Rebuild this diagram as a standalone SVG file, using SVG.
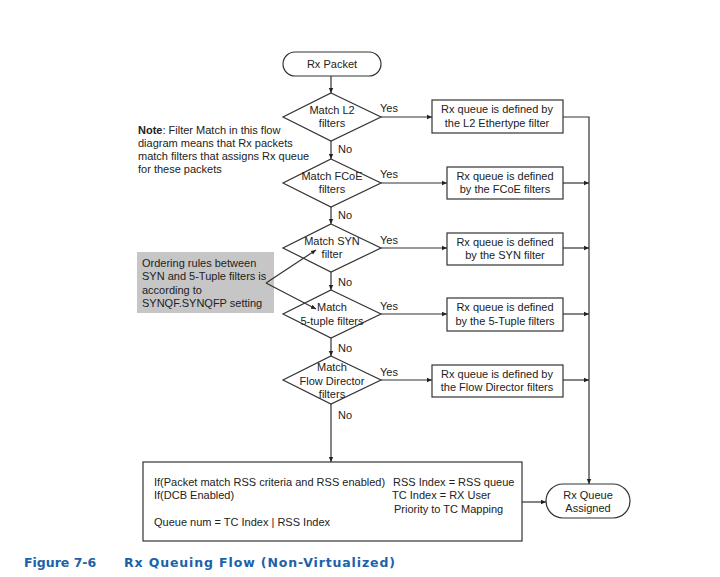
<svg xmlns="http://www.w3.org/2000/svg" width="720" height="577" viewBox="0 0 720 577">
<defs>
<marker id="arr" markerWidth="6" markerHeight="6" refX="5" refY="3" orient="auto" markerUnits="userSpaceOnUse">
<path d="M0,0.8 L5,3 L0,5.2 Z" fill="#222"/>
</marker>
<style>
.s{fill:#fff;stroke:#333;stroke-width:1.2}
.l{fill:none;stroke:#333;stroke-width:1.2}
.t{font-family:"Liberation Sans",Arial,sans-serif;font-size:11px;fill:#222}
.c{text-anchor:middle}
.cap{font-family:"DejaVu Sans",Verdana,sans-serif;font-size:12.5px;font-weight:bold;fill:#1b62a8}
</style>
</defs>
<rect width="720" height="577" fill="#fff"/>

<g id="connectors">
<line class="l" x1="331" y1="76" x2="331" y2="93" marker-end="url(#arr)"/>
<line class="l" x1="331" y1="141" x2="331" y2="159" marker-end="url(#arr)"/>
<line class="l" x1="331" y1="207" x2="331" y2="224" marker-end="url(#arr)"/>
<line class="l" x1="331" y1="272" x2="331" y2="290" marker-end="url(#arr)"/>
<line class="l" x1="331" y1="338" x2="331" y2="356" marker-end="url(#arr)"/>
<line class="l" x1="331" y1="404" x2="331" y2="462" marker-end="url(#arr)"/>
<line class="l" x1="381" y1="117" x2="432" y2="117" marker-end="url(#arr)"/>
<line class="l" x1="381" y1="183" x2="447" y2="183" marker-end="url(#arr)"/>
<line class="l" x1="381" y1="248" x2="447" y2="248" marker-end="url(#arr)"/>
<line class="l" x1="381" y1="314" x2="447" y2="314" marker-end="url(#arr)"/>
<line class="l" x1="381" y1="380" x2="432" y2="380" marker-end="url(#arr)"/>
<polyline class="l" points="563,117 589,117 589,484" marker-end="url(#arr)"/>
<line class="l" x1="563" y1="183" x2="589" y2="183" marker-end="url(#arr)"/>
<line class="l" x1="563" y1="248" x2="589" y2="248" marker-end="url(#arr)"/>
<line class="l" x1="563" y1="314" x2="589" y2="314" marker-end="url(#arr)"/>
<line class="l" x1="563" y1="380" x2="589" y2="380" marker-end="url(#arr)"/>
<line class="l" x1="522" y1="502" x2="546" y2="502" marker-end="url(#arr)"/>
<text class="t" x="380" y="112">Yes</text>
<text class="t" x="380" y="178">Yes</text>
<text class="t" x="380" y="244">Yes</text>
<text class="t" x="380" y="310">Yes</text>
<text class="t" x="380" y="376">Yes</text>
<text class="t" x="338" y="153">No</text>
<text class="t" x="338" y="219">No</text>
<text class="t" x="338" y="286">No</text>
<text class="t" x="338" y="352">No</text>
<text class="t" x="338" y="419">No</text>
</g>

<g id="start">
<rect class="s" x="283" y="52" width="98" height="24" rx="12"/>
<text class="t c" x="332" y="68">Rx Packet</text>
</g>

<g id="d1">
<polygon class="s" points="331,93 381,117 331,141 283,117"/>
<text class="t c" x="332" y="114">Match L2</text>
<text class="t c" x="332" y="127">filters</text>
</g>
<g id="d2">
<polygon class="s" points="331,159 381,183 331,207 283,183"/>
<text class="t c" x="332" y="180">Match FCoE</text>
<text class="t c" x="332" y="193">filters</text>
</g>
<g id="d3">
<polygon class="s" points="331,224 381,248 331,272 283,248"/>
<text class="t c" x="332" y="245">Match SYN</text>
<text class="t c" x="332" y="258">filter</text>
</g>
<g id="d4">
<polygon class="s" points="331,290 381,314 331,338 283,314"/>
<text class="t c" x="332" y="311">Match</text>
<text class="t c" x="332" y="325">5-tuple filters</text>
</g>
<g id="d5">
<polygon class="s" points="331,356 381,380 331,404 283,380"/>
<text class="t c" x="332" y="371">Match</text>
<text class="t c" x="332" y="385">Flow Director</text>
<text class="t c" x="332" y="398">filters</text>
</g>

<g id="b1">
<rect class="s" x="432" y="100" width="131" height="33"/>
<text class="t c" x="497" y="113">Rx queue is defined by</text>
<text class="t c" x="497" y="127">the L2 Ethertype filter</text>
</g>
<g id="b2">
<rect class="s" x="447" y="167" width="116" height="32"/>
<text class="t c" x="505" y="180">Rx queue is defined</text>
<text class="t c" x="505" y="193">by the FCoE filters</text>
</g>
<g id="b3">
<rect class="s" x="447" y="233" width="116" height="32"/>
<text class="t c" x="505" y="246">Rx queue is defined</text>
<text class="t c" x="505" y="259">by the SYN filter</text>
</g>
<g id="b4">
<rect class="s" x="447" y="298" width="116" height="33"/>
<text class="t c" x="505" y="311">Rx queue is defined</text>
<text class="t c" x="505" y="325">by the 5-Tuple filters</text>
</g>
<g id="b5">
<rect class="s" x="432" y="365" width="131" height="32"/>
<text class="t c" x="497" y="378">Rx queue is defined by</text>
<text class="t c" x="497" y="391">the Flow Director filters</text>
</g>

<g id="rss">
<rect class="s" x="143" y="462" width="379" height="79"/>
<text class="t" x="154" y="486">If(Packet match RSS criteria and RSS enabled)</text>
<text class="t" x="393" y="486">RSS Index = RSS queue</text>
<text class="t" x="154" y="499">If(DCB Enabled)</text>
<text class="t" x="392" y="499">TC Index = RX User</text>
<text class="t" x="394" y="513">Priority to TC Mapping</text>
<text class="t" x="154" y="526">Queue num = TC Index | RSS Index</text>
</g>

<g id="end">
<rect class="s" x="546" y="484" width="84" height="34" rx="17"/>
<text class="t c" x="588" y="499">Rx Queue</text>
<text class="t c" x="588" y="512">Assigned</text>
</g>

<g id="note">
<text class="t" x="138" y="134"><tspan font-weight="bold">Note</tspan>: Filter Match in this flow</text>
<text class="t" x="138" y="147">diagram means that Rx packets</text>
<text class="t" x="138" y="160">match filters that assigns Rx queue</text>
<text class="t" x="138" y="173">for these packets</text>
</g>

<g id="ordering">
<rect x="137" y="252" width="137" height="61" fill="#c6c6c6"/>
<text class="t" x="142" y="267">Ordering rules between</text>
<text class="t" x="142" y="280">SYN and 5-Tuple filters is</text>
<text class="t" x="142" y="294">according to</text>
<text class="t" x="142" y="307">SYNQF.SYNQFP setting</text>
<line class="l" x1="266" y1="283" x2="316" y2="250" marker-end="url(#arr)"/>
<line class="l" x1="266" y1="283" x2="316" y2="309" marker-end="url(#arr)"/>
</g>

<text class="cap" x="24" y="567">Figure 7-6</text>
<text class="cap" x="124" y="567" textLength="271" lengthAdjust="spacing">Rx Queuing Flow (Non-Virtualized)</text>
</svg>
